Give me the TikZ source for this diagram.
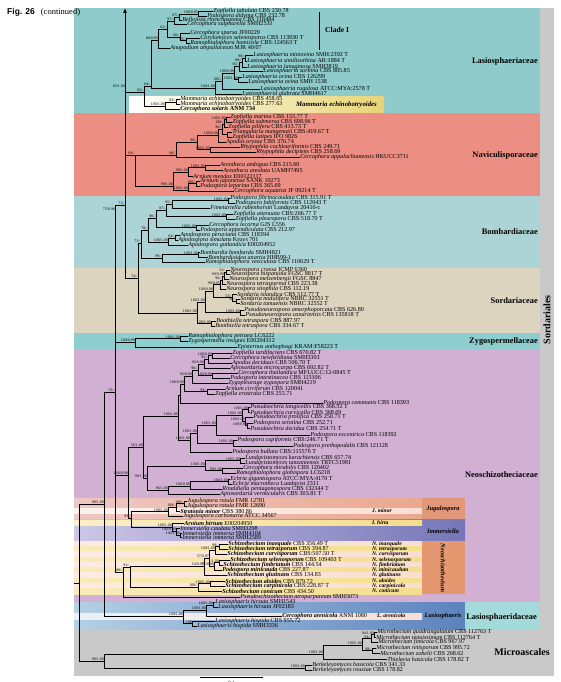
\documentclass[tikz,border=0pt]{standalone}
\usepackage{fontspec}
\setmainfont{Liberation Serif}
\setsansfont{Liberation Sans}
\usetikzlibrary{arrows}

\definecolor{lasioC}{RGB}{143,203,203}
\definecolor{mamC}{RGB}{232,212,118}
\definecolor{naviC}{RGB}{236,142,132}
\definecolor{bombC}{RGB}{172,212,214}
\definecolor{sordC}{RGB}{221,212,192}
\definecolor{zygoC}{RGB}{143,206,206}
\definecolor{neoC}{RGB}{210,176,212}
\definecolor{jugL}{RGB}{238,200,196}
\definecolor{jugR}{RGB}{234,168,142}
\definecolor{jugBox}{RGB}{226,152,120}
\definecolor{stripeP}{RGB}{250,222,210}
\definecolor{stripeY}{RGB}{244,222,140}
\definecolor{immL}{RGB}{205,198,230}
\definecolor{immR}{RGB}{118,118,184}
\definecolor{neoBox}{RGB}{228,152,112}
\definecolor{lasL}{RGB}{180,208,228}
\definecolor{lasR}{RGB}{92,130,190}
\definecolor{lasFam}{RGB}{165,218,218}
\definecolor{grayC}{RGB}{201,201,201}

\newcommand{\tipf}{\fontsize{6.1}{6.4}\selectfont}
\newcommand{\bootf}{\fontsize{3.9}{4.3}\selectfont}
\newcommand{\tx}[1]{\textit{#1}}
\newcommand{\tb}[1]{\textbf{\textit{#1}}}

\begin{document}
\begin{tikzpicture}
[x=1pt, y=-1pt, >=stealth',
br/.style={draw=black, line width=0.6pt},
taxon/.style={anchor=west, inner sep=0.2pt, font=\tipf},
boot/.style={font=\bootf, inner sep=0.1pt, anchor=south east},
fam/.style={anchor=east, inner sep=0pt, font=\fontsize{8.4}{9}\selectfont\bfseries},
genus/.style={inner sep=0pt, font=\fontsize{6.4}{7}\selectfont\bfseries\itshape},
short/.style={anchor=west, inner sep=0pt, font=\fontsize{5.6}{6}\selectfont\bfseries\itshape}]

\useasboundingbox (0,0) rectangle (560,682);
\fill[white] (0,0) rectangle (560,682);

\fill[lasioC] (74,8) rectangle (540,113);
\shade[left color=white, right color=mamC] (129,97) rectangle (384,113);
\fill[naviC] (74,113) rectangle (540,196);
\fill[bombC] (74,196) rectangle (540,268);
\fill[sordC] (74,268) rectangle (540,333);
\fill[zygoC] (74,333) rectangle (540,350);
\fill[neoC] (74,350) rectangle (540,602);
\shade[left color=jugL, right color=jugR] (74,498) rectangle (422,519);
\shade[left color=white!60!stripeP, right color=stripeP] (74,508.5) rectangle (422,513.5);
\fill[jugBox] (422,498) rectangle (465,519);
\shade[left color=immL, right color=immR] (74,519) rectangle (465,541);
\shade[left color=white!50!stripeY, right color=stripeY] (74,520.5) rectangle (422,525.5);
\shade[left color=white!40!stripeP, right color=stripeP] (74,541) rectangle (422,546.5);
\shade[left color=white!40!stripeY, right color=stripeY] (74,546.5) rectangle (422,551.5);
\shade[left color=white!40!stripeP, right color=stripeP] (74,551.5) rectangle (422,557);
\shade[left color=white!40!stripeY, right color=stripeY] (74,557) rectangle (422,562.5);
\shade[left color=white!40!stripeP, right color=stripeP] (74,562.5) rectangle (422,567.5);
\shade[left color=white!40!stripeY, right color=stripeY] (74,567.5) rectangle (422,572.5);
\shade[left color=white!40!stripeP, right color=stripeP] (74,572.5) rectangle (422,578);
\shade[left color=white!40!stripeY, right color=stripeY] (74,578) rectangle (422,583.5);
\shade[left color=white!40!stripeP, right color=stripeP] (74,583.5) rectangle (422,588.5);
\shade[left color=white!40!stripeY, right color=stripeY] (74,588.5) rectangle (422,594);
\fill[neoBox] (422,541) rectangle (465,594);
\shade[left color=lasL, right color=lasR] (74,602) rectangle (465,630);
\shade[left color=white!70!lasL, right color=stripeP] (74,613) rectangle (422,619);
\fill[lasFam] (465,602) rectangle (540,630);
\fill[grayC] (540,8) rectangle (554,630);
\fill[grayC] (74,630) rectangle (554,676);

\node[anchor=west, inner sep=0pt] (fig) at (7,12) {\fontsize{8.5}{9}\selectfont\sffamily\bfseries Fig. 26\hspace{6pt}\rmfamily\mdseries (continued)};

\node[taxon] (t1) at (213,11.5) {\tx{Zopfiella tabulata} CBS 230.78};
\node[taxon] (t2) at (207,16) {\tx{Podospora didyma} CBS 232.78};
\node[taxon] (t3) at (182,20) {\tx{Bellojisia rhynchostoma} CBS 118484};
\node[taxon] (t4) at (187,24.5) {\tx{Cercophora sulphurella} SMH2531};
\node[taxon] (t5) at (190,33) {\tx{Cercophora sparsa} JF00229};
\node[taxon] (t6) at (200,38) {\tx{Corylomyces selenosporus} CBS 113930 T};
\node[taxon] (t7) at (190,43) {\tx{Ramophialophora humicola} CBS:124563 T};
\node[taxon] (t8) at (170,48) {\tx{Anopodium ampullaceum} MJR 40/07};
\node[taxon] (t9) at (253,55) {\tx{Lasiosphaeria miniovina} SMH:2392 T};
\node[taxon] (t10) at (247,61) {\tx{Lasiosphaeria similisorbina} AR:1884 T};
\node[taxon] (t11) at (247,67) {\tx{Lasiosphaeria lanuginosa} SMH3819};
\node[taxon] (t12) at (263,71.5) {\tx{Lasiosphaeria sorbina} CBS 885.85};
\node[taxon] (t13) at (242,77) {\tx{Lasiosphaeria ovina} CBS 126299};
\node[taxon] (t14) at (248,82) {\tx{Lasiosphaeria ovina} SMH 1538};
\node[taxon] (t15) at (260,89) {\tx{Lasiosphaeria rugulosa} ATCC:MYA:2578 T};
\node[taxon] (t16) at (242,94) {\tx{Lasiosphaeria glabrata} SMH4617};
\node[taxon] (t17) at (180,99.5) {\tx{Mammaria echinobotryoides} CBS 458.65};
\node[taxon] (t18) at (180,104.5) {\tx{Mammaria echinobotryoides} CBS 277.63};
\node[taxon] (t19) at (180,109.5) {\tb{Cercophora solaris} \textbf{ANM 734}};

\node[taxon] (t20) at (230,117) {\tx{Zopfiella marina} CBS 155.77 T};
\node[taxon] (t21) at (232,122) {\tx{Zopfiella submersa} CBS 698.96 T};
\node[taxon] (t22) at (228,127) {\tx{Zopfiella pilifera} CBS 413.73 T};
\node[taxon] (t23) at (232,132) {\tx{Triangularia mangenotii} CBS:419.67 T};
\node[taxon] (t24) at (232,137) {\tx{Zopfiella latipes} IFO 9826};
\node[taxon] (t25) at (226,142) {\tx{Apodus oryzae} CBS 376.74};
\node[taxon] (t26) at (240,147) {\tx{Rhypophila cochleariformis} CBS 249.71};
\node[taxon] (t27) at (256,152) {\tx{Rhypophila decipiens} CBS 258.69};
\node[taxon] (t28) at (300,157) {\tx{Cercophora appalachianensis} HKUCC3711};
\node[taxon] (t29) at (220,165) {\tx{Areotheca ambigua} CBS 215.60};
\node[taxon] (t30) at (223,170) {\tx{Areotheca areolata} UAMH7495};
\node[taxon] (t31) at (193,176) {\tx{Arnium mendax} E00122117};
\node[taxon] (t32) at (200,181) {\tx{Arnium japonense} SANK 10273};
\node[taxon] (t33) at (200,186) {\tx{Podospora leporina} CBS 365.69};
\node[taxon] (t34) at (234,191) {\tx{Cercophora aquatica} JF 09214 T};

\node[taxon] (t35) at (230,198) {\tx{Podospora fibrinocaudata} CBS 315.91 T};
\node[taxon] (t36) at (235,203) {\tx{Podospora fabiformis} CBS 112043 T};
\node[taxon] (t37) at (210,208) {\tx{Fimetariella rabenhorstii} Lundqvist 20410-c};
\node[taxon] (t38) at (233,214) {\tx{Zopfiella attenuata} CBS:266.77 T};
\node[taxon] (t39) at (235,219) {\tx{Zopfiella pleuropora} CBS:518.70 T};
\node[taxon] (t40) at (209,225) {\tx{Cercophora lecorna} GJS L556};
\node[taxon] (t41) at (200,230) {\tx{Podospora appendiculata} CBS 212.97};
\node[taxon] (t42) at (180,235.5) {\tx{Apodospora peruviana} CBS 118394};
\node[taxon] (t43) at (178,240.5) {\tx{Apodospora simulans} Kruys 701};
\node[taxon] (t44) at (188,245.5) {\tx{Apodospora gotlandica} E00204952};
\node[taxon] (t45) at (200,252) {\tx{Bombardia bombarda} SMH4821};
\node[taxon] (t46) at (208,257) {\tx{Bombardioidea anartia} HHB99-1};
\node[taxon] (t47) at (205,262) {\tx{Ramophialophora vesiculosa} CBS 110629 T};

\node[taxon] (t48) at (230,270) {\tx{Neurospora crassa} ICMP 6360};
\node[taxon] (t49) at (230,274.5) {\tx{Neurospora hispaniola} FGSC 8817 T};
\node[taxon] (t50) at (229,279) {\tx{Neurospora metzenbergii} FGSC 8847};
\node[taxon] (t51) at (226,284) {\tx{Neurospora tetrasperma} CBS 223.38};
\node[taxon] (t52) at (226,289) {\tx{Neurospora sitophila} CBS 112.19};
\node[taxon] (t53) at (237,294) {\tx{Sordaria islandica} CBS 512.77 T};
\node[taxon] (t54) at (240,299) {\tx{Sordaria nodulifera} NBRC 32551 T};
\node[taxon] (t55) at (240,303.5) {\tx{Sordaria tamaensis} NBRC 32552 T};
\node[taxon] (t56) at (244,310) {\tx{Pseudoneurospora amorphoporcata} CBS 626.80};
\node[taxon] (t57) at (245,315) {\tx{Pseudoneurospora canariensis} CBS 135818 T};
\node[taxon] (t58) at (216,321) {\tx{Boothiella tetraspora} CBS 887.97};
\node[taxon] (t59) at (215,326) {\tx{Boothiella tetraspora} CBS 334.67 T};

\node[taxon] (t60) at (188,336) {\tx{Ramophialophora petraea} LC6222};
\node[taxon] (t61) at (188,341) {\tx{Zygospermella insignis} E00204312};
\node[taxon] (t62) at (237,347) {\tx{Episternus anthophagi} KRAM:F58223 T};

\node[taxon] (t63) at (232,353) {\tx{Zopfiella tardifaciens} CBS 670.82 T};
\node[taxon] (t64) at (230,358) {\tx{Cercophora newfieldiana} SMH3303};
\node[taxon] (t65) at (232,363) {\tx{Apodus deciduus} CBS 506.70 T};
\node[taxon] (t66) at (230,368) {\tx{Apiosordaria microcarpa} CBS 692.82 T};
\node[taxon] (t67) at (238,373) {\tx{Cercophora thailandica} MFLUCC:12-0845 T};
\node[taxon] (t68) at (230,378) {\tx{Podospora intestinacea} CBS 113106};
\node[taxon] (t69) at (228,383) {\tx{Zygopleurage zygospora} SMH4219};
\node[taxon] (t70) at (225,389) {\tx{Arnium cirriferum} CBS 120041};
\node[taxon] (t71) at (215,394) {\tx{Zopfiella erostrata} CBS 255.71};
\node[taxon] (t72) at (323,403) {\tx{Podospora communis} CBS 118393};
\node[taxon] (t73) at (250,407) {\tx{Pseudoechria longicollis} CBS 368.52 T};
\node[taxon] (t74) at (250,412) {\tx{Pseudoechria curvicolla} CBS 368.69};
\node[taxon] (t75) at (253,417) {\tx{Pseudoechria prolifica} CBS 250.71 T};
\node[taxon] (t76) at (253,423) {\tx{Podospora serotina} CBS 252.71};
\node[taxon] (t77) at (250,428) {\tx{Pseudoechria decidua} CBS 254.71 T};
\node[taxon] (t78) at (310,435) {\tx{Podospora excentrica} CBS 118392};
\node[taxon] (t79) at (237,440) {\tx{Podospora cupiformis} CBS:246.71 T};
\node[taxon] (t80) at (293,446) {\tx{Podospora prethopodalis} CBS 121128};
\node[taxon] (t81) at (232,452) {\tx{Podospora bullata} CBS:115576 T};
\node[taxon] (t82) at (245,458) {\tx{Lundqvistomyces karachiensis} CBS 657.74};
\node[taxon] (t83) at (245,463) {\tx{Lundqvistomyces tanzaniensis} TRTC51981};
\node[taxon] (t84) at (243,468) {\tx{Cercophora mirabilis} CBS 120402};
\node[taxon] (t85) at (236,473) {\tx{Ramophialophora globispora} LC6218};
\node[taxon] (t86) at (230,479) {\tx{Echria gigantospora} ATCC:MYA:4170 T};
\node[taxon] (t87) at (232,484) {\tx{Echria macrotheca} Lundqvist 2311};
\node[taxon] (t88) at (222,489) {\tx{Rinaldiella pentagonospora} CBS 132344 T};
\node[taxon] (t89) at (220,494) {\tx{Apiosordaria vermicularis} CBS 303.81 T};

\node[taxon] (t90) at (187,501) {\tx{Jugulospora rotula} FMR 12781};
\node[taxon] (t91) at (187,506) {\tx{Jugulospora rotula} FMR 12690};
\node[taxon] (t92) at (180,511) {\tb{Stratonia minor} CBS 380.86};
\node[taxon] (t93) at (183,516) {\tx{Jugulospora carbonaria} ATCC 34567};
\node[taxon] (t94) at (184,523) {\tb{Arnium hirtum} E00204950};
\node[taxon] (t95) at (180,528) {\tx{Immersiella caudata} SMH3298};
\node[taxon] (t96) at (182,533) {\tx{Immersiella immersa} SMH4104};
\node[taxon] (t97) at (182,537.5) {\tx{Immersiella immersa} SMH2589};
\node[taxon] (t98) at (228,544) {\tb{Schizothecium inaequale} CBS 356.49 T};
\node[taxon] (t99) at (228,549) {\tb{Schizothecium tetrasporum} CBS 394.87};
\node[taxon] (t100) at (227,554) {\tb{Schizothecium curvisporum} CBS:507.50 T};
\node[taxon] (t101) at (230,560) {\tb{Schizothecium selenosporum} CBS 109403 T};
\node[taxon] (t102) at (223,565) {\tb{Schizothecium fimbriatum} CBS 144.54};
\node[taxon] (t103) at (222,570) {\tb{Podospora minicauda} CBS 227.87};
\node[taxon] (t104) at (227,575) {\tb{Schizothecium glutinans} CBS 134.83};
\node[taxon] (t105) at (225,581) {\tb{Schizothecium aloides} CBS 879.72};
\node[taxon] (t106) at (225,586) {\tb{Schizothecium carpinicola} CBS:228.87 T};
\node[taxon] (t107) at (222,591) {\tb{Schizothecium conicum} CBS 434.50};
\node[taxon] (t108) at (240,597) {\tx{Pseudoschizothecium atropurpureum} SMH5073};

\node[taxon] (t109) at (215,602.5) {\tx{Lasiosphaeris hirsuta} SMH1543};
\node[taxon] (t110) at (218,607.5) {\tx{Lasiosphaeris hirsuta} JF02183};
\node[taxon] (t111) at (282,616) {\tb{Cercophora arenicola} ANM 1080};
\node[taxon] (t112) at (215,621) {\tx{Lasiosphaeris hispida} CBS 955.72};
\node[taxon] (t113) at (197,626) {\tx{Lasiosphaeris hispida} SMH3336};

\node[taxon] (t114) at (377,632) {\tx{Microthecium quadrangulatum} CBS 112763 T};
\node[taxon] (t115) at (376,637) {\tx{Microthecium tenuissimum} CBS 112764 T};
\node[taxon] (t116) at (378,642) {\tx{Microthecium fimicola} CBS 967.97};
\node[taxon] (t117) at (376,648) {\tx{Microthecium retisporum} CBS 995.72};
\node[taxon] (t118) at (380,653) {\tx{Microthecium zobelii} CBS 268.62};
\node[taxon] (t119) at (387,659) {\tx{Thielavia basicola} CBS 178.82 T};
\node[taxon] (t120) at (312,665) {\tx{Berkeleyomyces basicola} CBS 341.33};
\node[taxon] (t121) at (312,670) {\tx{Berkeleyomyces rouxiae} CBS 178.82};

\coordinate[label={[boot]135:100/0.95}] (a1) at (198,14);
\coordinate[label={[boot]135:67/-}] (a2) at (179,17);
\coordinate[label={[boot]135:87/-}] (a3) at (174,21);
\coordinate[label={[boot]135:66/-}] (a4) at (180,37);
\coordinate[label={[boot]135:95/-}] (a5) at (186,40.5);
\coordinate[label={[boot]135:62/-}] (a6) at (167,29);
\coordinate[label={[boot]135:88/0.93}] (a7) at (158,40);
\coordinate[label={[boot]135:98/-}] (b1) at (245,58);
\coordinate[label={[boot]135:88/-}] (b2) at (242,62);
\coordinate[label={[boot]135:56/-}] (b3) at (239,66);
\coordinate[label={[boot]135:100/1.00}] (b4) at (238,79.5);
\coordinate[label={[boot]135:100/0.99}] (b5) at (234,73);
\coordinate[label={[boot]135:100/-}] (b6) at (222,81);
\coordinate[label={[boot]135:100/1.00}] (b7) at (215,88);
\coordinate[label={[boot]135:84/-}] (b8) at (151,86);
\coordinate[label={[boot]135:83/-}] (c1) at (176,102);
\coordinate[label={[boot]135:100/1.00}] (c2) at (165,106);
\coordinate[label={[boot]135:82/-}] (c3) at (144,92);
\coordinate[label={[boot]135:83/1.00}] (X1) at (125,88);
\coordinate (arrowtop) at (125,9);

\coordinate[label={[boot]135:100/1.00}] (nb1) at (226,119.5);
\coordinate[label={[boot]135:100/-}] (nb2) at (224,124);
\coordinate (nb3) at (227,134.5);
\coordinate[label={[boot]135:96/-}] (nb4) at (222,129);
\coordinate[label={[boot]135:100/0.98}] (nb5) at (218,135);
\coordinate[label={[boot]135:100/1.00}] (nb6) at (210,149.5);
\coordinate[label={[boot]135:98/-}] (nb7) at (197,142);
\coordinate[label={[boot]135:94/-}] (nb8) at (176,155);
\coordinate[label={[boot]135:100/1.00}] (nb9) at (205,167.5);
\coordinate[label={[boot]135:99/1.00}] (nb10) at (188,172);
\coordinate[label={[boot]135:100/-}] (nb11) at (196,183.5);
\coordinate[label={[boot]135:100/1.00}] (nb12) at (188,190);
\coordinate[label={[boot]135:99/1.00}] (nb13) at (173,186);
\coordinate[label={[boot]135:69/-}] (nav) at (135,155);
\coordinate (X2) at (125,200);
\coordinate[label={[boot]135:71/-}] (X3) at (125,205);

\coordinate[label={[boot]135:100/1.00}] (bo1) at (228,200.5);
\coordinate[label={[boot]135:95/-}] (bo2) at (172,204);
\coordinate[label={[boot]135:100/1.00}] (bo3) at (226,216.5);
\coordinate[label={[boot]135:87/-}] (bo4) at (166,210);
\coordinate[label={[boot]135:100/1.00}] (bo5) at (196,227.5);
\coordinate[label={[boot]135:96/-}] (bo6) at (156,218);
\coordinate[label={[boot]135:64/-}] (bo7) at (175,238);
\coordinate[label={[boot]135:100/1.00}] (bo8) at (168,242);
\coordinate[label={[boot]135:78/-}] (bo9) at (148,230);
\coordinate[label={[boot]135:100/1.00}] (bo10) at (198,254.5);
\coordinate[label={[boot]135:99/-}] (bo11) at (162,258);
\coordinate[label={[boot]135:73/-}] (bo12) at (141,243);
\coordinate[label={[boot]135:74/-}] (BS) at (138,278);

\coordinate[label={[boot]135:52/-}] (so1) at (226,272);
\coordinate[label={[boot]135:99/0.99}] (so2) at (224,276);
\coordinate[label={[boot]135:96/-}] (so3) at (222,280);
\coordinate[label={[boot]135:99/0.95}] (so4) at (220,284.5);
\coordinate[label={[boot]135:98/-}] (so6) at (236,301);
\coordinate[label={[boot]135:53/-}] (so7) at (232,297.5);
\coordinate[label={[boot]135:100/0.98}] (so8) at (213,291);
\coordinate[label={[boot]135:100/1.00}] (so9) at (240,312.5);
\coordinate[label={[boot]135:100/1.00}] (so10) at (205,302);
\coordinate[label={[boot]135:100/1.00}] (so11) at (211,323.5);
\coordinate[label={[boot]135:100/1.00}] (so12) at (197,313);

\coordinate[label={[boot]135:100/1.00}] (zg1) at (180,338.5);
\coordinate[label={[boot]135:100/0.99}] (Z) at (135,342);
\coordinate[label={[boot]135:75/0.98}] (Ua) at (115,211);
\coordinate[label={[boot]135:72/-}] (U) at (115,392);

\coordinate[label={[boot]135:100/0.99}] (f1) at (212,355.5);
\coordinate[label={[boot]135:92/-}] (f2) at (208,359);
\coordinate[label={[boot]135:92/0.99}] (f3) at (204,364);
\coordinate[label={[boot]135:100/0.99}] (f4) at (212,375.5);
\coordinate[label={[boot]135:96/-}] (f5) at (198,370);
\coordinate[label={[boot]135:92/0.99}] (f6) at (192,376);
\coordinate[label={[boot]135:99/-}] (f7) at (207,391.5);
\coordinate[label={[boot]135:100/0.99}] (F1) at (184,384);
\coordinate (P0) at (180,395);
\coordinate[label={[boot]135:100/1.00}] (e1) at (248,409.5);
\coordinate[label={[boot]135:100/0.99}] (e2) at (247,425.5);
\coordinate[label={[boot]135:100/1.00}] (e3) at (245,421);
\coordinate[label={[boot]135:100/1.00}] (e4) at (242,415);
\coordinate[label={[boot]135:100/1.00}] (e5) at (216,425);
\coordinate[label={[boot]135:100/1.00}] (e6) at (197,433);
\coordinate[label={[boot]135:100/1.00}] (e7) at (233,443);
\coordinate[label={[boot]135:100/1.00}] (F2) at (190,440);
\coordinate[label={[boot]135:100/1.00}] (P1) at (178,416);
\coordinate[label={[boot]135:100/1.00}] (l1) at (240,460.5);
\coordinate[label={[boot]135:99/1.00}] (l3) at (222,470.5);
\coordinate[label={[boot]135:100/1.00}] (F3) at (205,466);
\coordinate[label={[boot]135:100/1.00}] (ec1) at (228,481.5);
\coordinate[label={[boot]135:100/0.96}] (ec2) at (190,486);
\coordinate[label={[boot]135:96/1.00}] (F4) at (168,490);
\coordinate[label={[boot]135:99/1.00}] (F34) at (147,478);
\coordinate[label={[boot]135:56/1.00}] (P2) at (143,447);
\coordinate[label={[boot]135:100/0.99}] (P3) at (128,475);

\coordinate[label={[boot]135:100/-}] (j1) at (184,503.5);
\coordinate[label={[boot]135:100/-}] (j2) at (176,507);
\coordinate[label={[boot]135:100/1.00}] (j3) at (168,511.5);
\coordinate[label={[boot]135:100/1.00}] (im1) at (180,535);
\coordinate[label={[boot]135:100/0.99}] (im2) at (176,531);
\coordinate[label={[boot]135:100/1.00}] (im3) at (172,527);
\coordinate[label={[boot]135:93/-}] (J) at (131,518);

\coordinate[label={[boot]135:99/-}] (nz1) at (219,546.5);
\coordinate[label={[boot]135:100/1.00}] (nz2) at (215,550);
\coordinate[label={[boot]135:-/1.00}] (nz3) at (219,562.5);
\coordinate[label={[boot]135:96/0.98}] (nz4) at (214,566);
\coordinate[label={[boot]135:57/0.97}] (nz5) at (209,558);
\coordinate[label={[boot]135:54/0.97}] (nz6) at (204,566);
\coordinate[label={[boot]135:100/1.00}] (nz7) at (210,583.5);
\coordinate[label={[boot]135:100/-}] (nz8) at (198,587);
\coordinate[label={[boot]135:91/-}] (NZ) at (130,567);
\coordinate[label={[boot]135:88/-}] (W) at (123,572);
\coordinate (Ub) at (115,520);

\coordinate[label={[boot]135:100/1.00}] (L1) at (213,605);
\coordinate[label={[boot]135:100/1.00}] (L2) at (206,610);
\coordinate[label={[boot]135:100}] (L3) at (192,623.5);
\coordinate[label={[boot]135:100/1.00}] (L) at (183,616);
\coordinate[label={[boot]135:99/1.00}] (S) at (104,504);

\coordinate[label={[boot]135:94/1.00}] (m1) at (374,634.5);
\coordinate[label={[boot]135:94/-}] (m2) at (371,638.5);
\coordinate[label={[boot]135:98/-}] (m3) at (372,650.5);
\coordinate[label={[boot]135:100/1.00}] (m4) at (362,645);
\coordinate[label={[boot]135:100/1.00}] (Mic) at (323,654);
\coordinate[label={[boot]135:100/1.00}] (Berk) at (305,668);
\coordinate[label={[boot]135:99/1.00}] (M) at (104,661);
\coordinate (r) at (79,583);
\coordinate (rootstub) at (74,583);

\draw[br] (a1) |- (t1.west) (a1) |- (t2.west);
\draw[br] (a2) |- (a1) (a2) |- (t3.west);
\draw[br] (a3) |- (a2) (a3) |- (t4.west);
\draw[br] (a5) |- (t6.west) (a5) |- (t7.west);
\draw[br] (a4) |- (t5.west) (a4) |- (a5);
\draw[br] (a6) |- (a3) (a6) |- (a4);
\draw[br] (a7) |- (a6) (a7) |- (t8.west);
\draw[br] (b1) |- (t9.west) (b1) |- (t10.west);
\draw[br] (b2) |- (b1) (b2) |- (t11.west);
\draw[br] (b3) |- (b2) (b3) |- (t12.west);
\draw[br] (b4) |- (t13.west) (b4) |- (t14.west);
\draw[br] (b5) |- (b3) (b5) |- (b4);
\draw[br] (b6) |- (b5) (b6) |- (t15.west);
\draw[br] (b7) |- (b6) (b7) |- (t16.west);
\draw[br] (b8) |- (a7) (b8) |- (b7);
\draw[br] (c1) |- (t17.west) (c1) |- (t18.west);
\draw[br] (c2) |- (c1) (c2) |- (t19.west);
\draw[br] (c3) |- (b8) (c3) |- (c2);
\draw[br] (X1) |- (c3);
\draw[br,->] (X1) -- (arrowtop);

\draw[br] (nb1) |- (t20.west) (nb1) |- (t21.west);
\draw[br] (nb2) |- (nb1) (nb2) |- (t22.west);
\draw[br] (nb3) |- (t23.west) (nb3) |- (t24.west);
\draw[br] (nb4) |- (nb2) (nb4) |- (nb3);
\draw[br] (nb5) |- (nb4) (nb5) |- (t25.west);
\draw[br] (nb6) |- (t26.west) (nb6) |- (t27.west);
\draw[br] (nb7) |- (nb5) (nb7) |- (nb6);
\draw[br] (nb8) |- (nb7) (nb8) |- (t28.west);
\draw[br] (nb9) |- (t29.west) (nb9) |- (t30.west);
\draw[br] (nb10) |- (nb9) (nb10) |- (t31.west);
\draw[br] (nb11) |- (t32.west) (nb11) |- (t33.west);
\draw[br] (nb12) |- (nb11) (nb12) |- (t34.west);
\draw[br] (nb13) |- (nb10) (nb13) |- (nb12);
\draw[br] (nav) |- (nb8) (nav) |- (nb13);
\draw[br] (X2) |- (X1) (X2) |- (nav);
\draw[br] (X3) |- (X2) (X3) |- (BS);

\draw[br] (bo1) |- (t35.west) (bo1) |- (t36.west);
\draw[br] (bo2) |- (bo1) (bo2) |- (t37.west);
\draw[br] (bo3) |- (t38.west) (bo3) |- (t39.west);
\draw[br] (bo4) |- (bo2) (bo4) |- (bo3);
\draw[br] (bo5) |- (t40.west) (bo5) |- (t41.west);
\draw[br] (bo6) |- (bo4) (bo6) |- (bo5);
\draw[br] (bo7) |- (t42.west) (bo7) |- (t43.west);
\draw[br] (bo8) |- (bo7) (bo8) |- (t44.west);
\draw[br] (bo9) |- (bo6) (bo9) |- (bo8);
\draw[br] (bo10) |- (t45.west) (bo10) |- (t46.west);
\draw[br] (bo11) |- (bo10) (bo11) |- (t47.west);
\draw[br] (bo12) |- (bo9) (bo12) |- (bo11);
\draw[br] (BS) |- (bo12) (BS) |- (so12);

\draw[br] (so1) |- (t48.west) (so1) |- (t49.west);
\draw[br] (so2) |- (so1) (so2) |- (t50.west);
\draw[br] (so3) |- (so2) (so3) |- (t51.west);
\draw[br] (so4) |- (so3) (so4) |- (t52.west);
\draw[br] (so6) |- (t54.west) (so6) |- (t55.west);
\draw[br] (so7) |- (t53.west) (so7) |- (so6);
\draw[br] (so8) |- (so4) (so8) |- (so7);
\draw[br] (so9) |- (t56.west) (so9) |- (t57.west);
\draw[br] (so10) |- (so8) (so10) |- (so9);
\draw[br] (so11) |- (t58.west) (so11) |- (t59.west);
\draw[br] (so12) |- (so10) (so12) |- (so11);

\draw[br] (zg1) |- (t60.west) (zg1) |- (t61.west);
\draw[br] (Z) |- (zg1) (Z) |- (t62.west);
\draw[br] (Ua) |- (X3) (Ua) |- (Z);
\draw[br] (U) |- (Ua) (U) |- (Ub);

\draw[br] (f1) |- (t63.west) (f1) |- (t64.west);
\draw[br] (f2) |- (f1) (f2) |- (t65.west);
\draw[br] (f3) |- (f2) (f3) |- (t66.west);
\draw[br] (f4) |- (t67.west) (f4) |- (t68.west);
\draw[br] (f5) |- (f3) (f5) |- (f4);
\draw[br] (f6) |- (f5) (f6) |- (t69.west);
\draw[br] (f7) |- (t70.west) (f7) |- (t71.west);
\draw[br] (F1) |- (f6) (F1) |- (f7);
\draw[br] (P0) |- (F1) (P0) |- (t72.west);
\draw[br] (e1) |- (t73.west) (e1) |- (t74.west);
\draw[br] (e2) |- (t76.west) (e2) |- (t77.west);
\draw[br] (e3) |- (t75.west) (e3) |- (e2);
\draw[br] (e4) |- (e1) (e4) |- (e3);
\draw[br] (e5) |- (e4) (e5) |- (t78.west);
\draw[br] (e7) |- (t79.west) (e7) |- (t80.west);
\draw[br] (e6) |- (e5) (e6) |- (e7);
\draw[br] (F2) |- (e6) (F2) |- (t81.west);
\draw[br] (P1) |- (P0) (P1) |- (F2);
\draw[br] (l1) |- (t82.west) (l1) |- (t83.west);
\draw[br] (l3) |- (t84.west) (l3) |- (t85.west);
\draw[br] (F3) |- (l1) (F3) |- (l3);
\draw[br] (ec1) |- (t86.west) (ec1) |- (t87.west);
\draw[br] (ec2) |- (ec1) (ec2) |- (t88.west);
\draw[br] (F4) |- (ec2) (F4) |- (t89.west);
\draw[br] (F34) |- (F3) (F34) |- (F4);
\draw[br] (P2) |- (P1) (P2) |- (F34);
\draw[br] (P3) |- (P2) (P3) |- (J);

\draw[br] (j1) |- (t90.west) (j1) |- (t91.west);
\draw[br] (j2) |- (j1) (j2) |- (t92.west);
\draw[br] (j3) |- (j2) (j3) |- (t93.west);
\draw[br] (im1) |- (t96.west) (im1) |- (t97.west);
\draw[br] (im2) |- (t95.west) (im2) |- (im1);
\draw[br] (im3) |- (t94.west) (im3) |- (im2);
\draw[br] (J) |- (j3) (J) |- (im3);

\draw[br] (nz1) |- (t98.west) (nz1) |- (t99.west);
\draw[br] (nz2) |- (nz1) (nz2) |- (t100.west);
\draw[br] (nz3) |- (t101.west) (nz3) |- (t102.west);
\draw[br] (nz4) |- (nz3) (nz4) |- (t103.west);
\draw[br] (nz5) |- (nz2) (nz5) |- (nz4);
\draw[br] (nz6) |- (nz5) (nz6) |- (t104.west);
\draw[br] (nz7) |- (t105.west) (nz7) |- (t106.west);
\draw[br] (nz8) |- (nz7) (nz8) |- (t107.west);
\draw[br] (NZ) |- (nz6) (NZ) |- (nz8);
\draw[br] (W) |- (NZ) (W) |- (t108.west);
\draw[br] (Ub) |- (P3) (Ub) |- (W);

\draw[br] (L1) |- (t109.west) (L1) |- (t110.west);
\draw[br] (L2) |- (L1) (L2) |- (t111.west);
\draw[br] (L3) |- (t112.west) (L3) |- (t113.west);
\draw[br] (L) |- (L2) (L) |- (L3);
\draw[br] (S) |- (U) (S) |- (L);

\draw[br] (m1) |- (t114.west) (m1) |- (t115.west);
\draw[br] (m2) |- (m1) (m2) |- (t116.west);
\draw[br] (m3) |- (t117.west) (m3) |- (t118.west);
\draw[br] (m4) |- (m2) (m4) |- (m3);
\draw[br] (Mic) |- (m4) (Mic) |- (t119.west);
\draw[br] (Berk) |- (t120.west) (Berk) |- (t121.west);
\draw[br] (M) |- (Mic) (M) |- (Berk);
\draw[br] (r) |- (S) (r) |- (M);
\draw[br] (rootstub) -- (r);

\coordinate (sb1) at (200,677);
\coordinate (sb2) at (263,677);
\draw[br] (sb1) -- (sb2) node[midway, below=1pt, font=\fontsize{5}{6}\selectfont] (sbl) {0.1};

\coordinate (ci1) at (319,12);
\coordinate (ci2) at (319,50);
\draw[line width=0.9pt] (ci1) -- (ci2);
\node[anchor=west, inner sep=0pt, font=\fontsize{7.6}{8}\selectfont\bfseries] (cladeI) at (325,30) {Clade I};
\node[anchor=west, inner sep=0pt, font=\fontsize{6.8}{7}\selectfont\bfseries\itshape] (mamm) at (296,104.5) {Mammaria echinobotryoides};

\node[fam] (f_las) at (538,61) {Lasiosphaeriaceae};
\node[fam] (f_nav) at (538,155) {Naviculisporaceae};
\node[fam] (f_bom) at (538,232) {Bombardiaceae};
\node[fam] (f_sor) at (538,301) {Sordariaceae};
\node[fam] (f_zyg) at (538,342) {Zygospermellaceae};
\node[fam] (f_neo) at (538,475) {Neoschizotheciaceae};
\node[fam] (f_lsd) at (537,617) {Lasiosphaeridaceae};
\node[rotate=90, inner sep=0pt, font=\fontsize{10}{11}\selectfont\bfseries] (o_sor) at (547,320) {Sordariales};
\node[anchor=east, inner sep=0pt, font=\fontsize{10}{11}\selectfont\bfseries] (o_mic) at (550,652) {Microascales};

\node[genus] (g_jug) at (443,509) {Jugulospora};
\node[genus] (g_imm) at (443,531) {Immersiella};
\node[genus, rotate=-90] (g_neo) at (443,568) {Neoschizothecium};
\node[genus] (g_las) at (443,616) {Lasiosphaeris};

\node[short] (s_jmin) at (372,511) {J. minor};
\node[short] (s_ihir) at (372,523) {I. hirta};
\node[short] (s_nina) at (372,544) {N. inaequale};
\node[short] (s_ntet) at (372,549) {N. tetrasporum};
\node[short] (s_ncur) at (372,554) {N. curvisporum};
\node[short] (s_nsel) at (372,560) {N. selenosporum};
\node[short] (s_nfim) at (372,565) {N. fimbriatum};
\node[short] (s_nmin) at (372,570) {N. minicaudum};
\node[short] (s_nglu) at (372,575) {N. glutinans};
\node[short] (s_nalo) at (372,581) {N. aloides};
\node[short] (s_ncar) at (372,586) {N. carpinicola};
\node[short] (s_ncon) at (372,591) {N. conicum};
\node[short] (s_lare) at (377,616) {L. arenicola};

\end{tikzpicture}
\end{document}
